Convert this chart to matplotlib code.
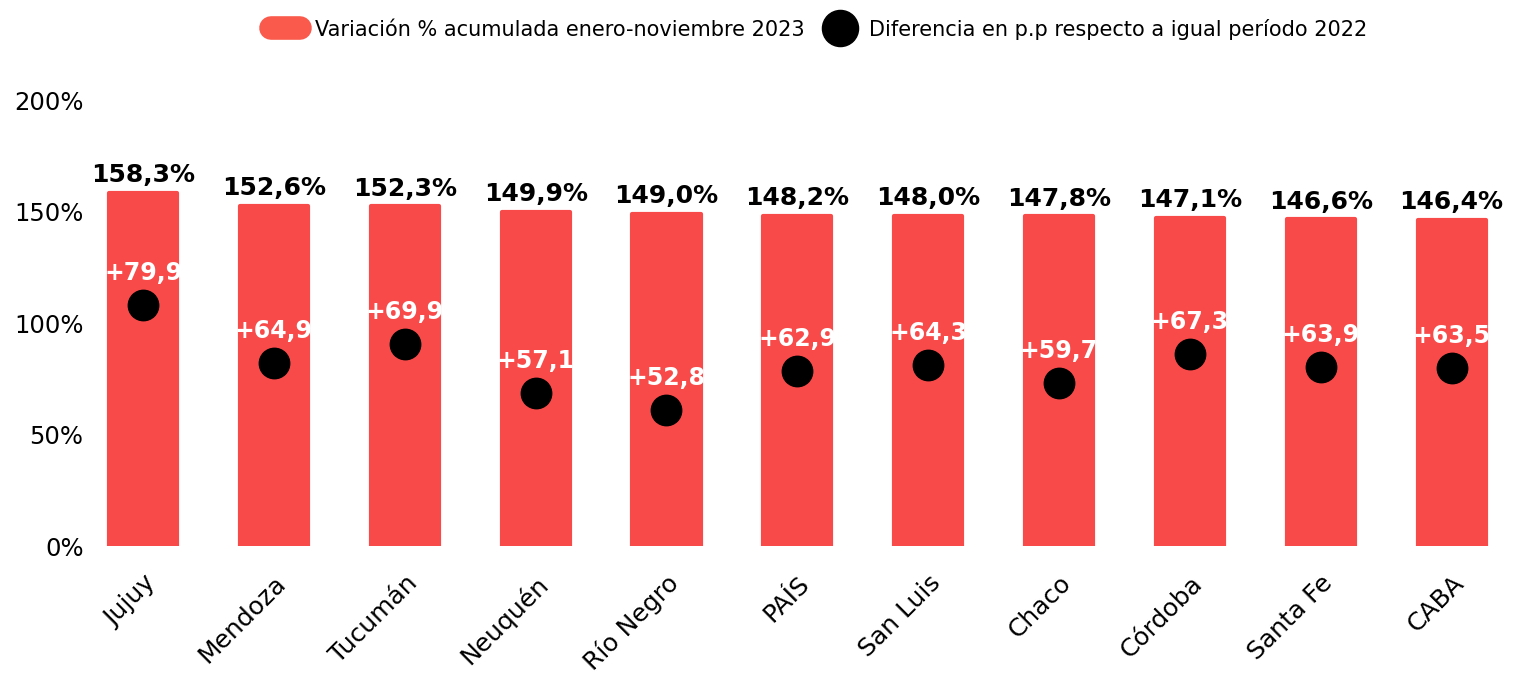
import matplotlib.pyplot as plt
from matplotlib.lines import Line2D

provincias = ["Jujuy", "Mendoza", "Tucumán", "Neuquén", "Río Negro", "PAÍS",
              "San Luis", "Chaco", "Córdoba", "Santa Fe", "CABA"]
variacion = [158.3, 152.6, 152.3, 149.9, 149.0, 148.2, 148.0, 147.8, 147.1, 146.6, 146.4]
diferencia_pp = [79.9, 64.9, 69.9, 57.1, 52.8, 62.9, 64.3, 59.7, 67.3, 63.9, 63.5]
yticks = [0, 50, 100, 150, 200]

rojo = "#F94A4A"
plt.rcParams['font.family'] = ['DejaVu Sans']

fig = plt.figure(figsize=(15.17, 6.73), dpi=100)
ax = fig.add_axes([0.0624, 0.1887, 0.929, 0.6627])
x = range(len(provincias))

bars = ax.bar(x, variacion, width=0.52, color=rojo, edgecolor=rojo,
              linewidth=3, joinstyle='round', zorder=2)
for xi, v in zip(x, variacion):
    ax.annotate(f"{v:.1f}%".replace(".", ","), (xi, v), xytext=(0, 4),
                textcoords="offset points", ha="center", va="bottom",
                fontsize=18, fontweight="bold", color="black")

ax.set_ylim(0, 200)
ax.set_xlim(-0.37, 10.4)
ax.set_yticks(yticks)
ax.set_yticklabels([f"{t}%" for t in yticks], fontsize=17.5)
ax.set_xticks(list(x))
ax.set_xticklabels(provincias, rotation=45, ha="right", rotation_mode="anchor",
                   fontsize=18)
ax.tick_params(axis="y", length=0, pad=8)
ax.tick_params(axis="x", length=0, pad=18)
for s in ax.spines.values():
    s.set_visible(False)

# puntos en un eje secundario
ax2 = ax.twinx()
ax2.set_ylim(17.6, 132.8)
ax2.scatter(x, diferencia_pp, s=480, color="black", zorder=3)
for xi, d in zip(x, diferencia_pp):
    ax2.annotate(f"+{d:.1f}".replace(".", ","), (xi, d), xytext=(0, 23),
                 textcoords="offset points", ha="center", va="center",
                 fontsize=17, fontweight="bold", color="white", zorder=4)
ax2.set_yticks([])
for s in ax2.spines.values():
    s.set_visible(False)

handles = [
    Line2D([0], [0], color="#FA5A4C", lw=17, solid_capstyle="round"),
    Line2D([0], [0], marker="o", color="black", linestyle="none", markersize=26),
]
labels = ["Variación % acumulada enero-noviembre 2023",
          "Diferencia en p.p respecto a igual período 2022"]
fig.legend(handles, labels, loc="upper center", bbox_to_anchor=(0.54, 1.0),
           ncol=2, frameon=False, fontsize=15, handlelength=1.4,
           columnspacing=1.0, handletextpad=0.7)

fig.savefig("out.png", dpi=100)
